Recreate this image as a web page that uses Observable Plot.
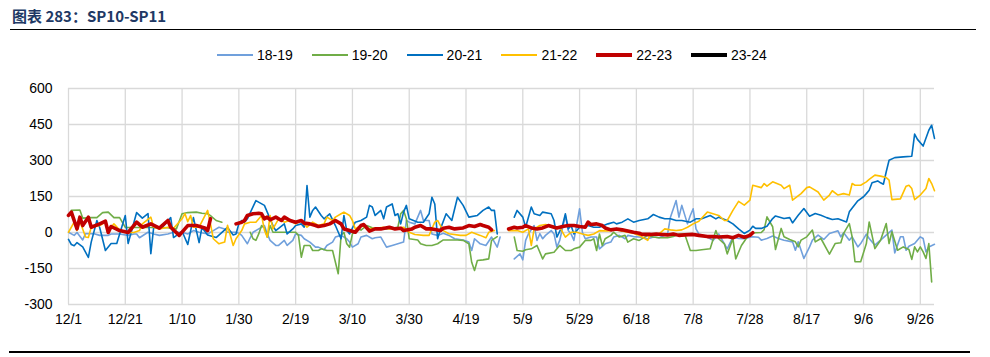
<!DOCTYPE html>
<html>
<head>
<meta charset="utf-8">
<script src="https://cdn.jsdelivr.net/npm/d3@7"></script>
<script src="https://cdn.jsdelivr.net/npm/@observablehq/plot@0.6"></script>
<style>
  html, body { margin: 0; padding: 0; background: #fff; }
  #page { position: relative; width: 990px; height: 357px; overflow: hidden; font-family: "Liberation Sans", Arial, sans-serif; }
  #title { position: absolute; left: 12px; top: 5px; font-family: "Noto Sans CJK SC", sans-serif; font-weight: 700; font-size: 15px; color: #203864; white-space: nowrap; }
  #topRule { position: absolute; left: 10px; top: 28.5px; width: 966px; height: 1.5px; background: #000; }
  #bottomRule { position: absolute; left: 9px; top: 351px; width: 961px; height: 2px; background: #000; }
  #legend { position: absolute; left: 217px; top: 46px; display: flex; }
  .item { width: 94.8px; display: flex; align-items: center; height: 18px; font-size: 14px; color: #000; }
  .item span { margin-left: 4px; }
  #chart { position: absolute; left: 0; top: 75px; }
</style>
</head>
<body>
<div id="page">
  <div id="title">图表 283：SP10-SP11</div>
  <div id="topRule"></div>
  <div id="legend"></div>
  <div id="chart"></div>
  <div id="bottomRule"></div>
</div>
<script>
// Days counted from 12/1. null = break in line.
const seriesNames = ["18-19", "19-20", "20-21", "21-22", "22-23", "23-24"];
const seriesColors = ["#70a0dc", "#70ad47", "#0070c0", "#ffc000", "#c00000", "#000000"];
const tickLabels = ["12/1","12/21","1/10","1/30","2/19","3/10","3/30","4/19","5/9","5/29","6/18","7/8","7/28","8/17","9/6","9/26"];
const yTicks = [-300, -150, 0, 150, 300, 450, 600];

const s1819 = [[0,1],[2,-12],[3,0],[5,-31],[6,-5],[9,-5],[11,-12],[14,-12],[15,-6],[18,-6],[21,-12],[23,-6],[24,-6],[25,-22],[28,1],[30,-6],[32,-12],[35,-6],[37,1],[40,1],[42,-6],[44,8],[46,1],[49,-6],[51,8],[53,22],[55,15],[56,1],[59,1],[60,-3],[61,-12],[63,-47],[64,-22],[65,1],[67,15],[69,29],[70,-6],[71,-33],[73,-54],[74,-54],[76,-33],[77,-54],[79,-33],[80,-6],[82,-12],[83,-26],[85,-40],[87,-61],[88,-61],[90,-72],[91,-54],[93,-40],[94,-19],[96,-12],[98,-26],[99,-40],[100,-61],[102,-47],[103,-19],[105,-12],[107,-26],[108,-22],[110,-19],[112,-61],[114,-54],[116,-47],[118,-40],[119,50],[120,43],[122,36],[124,92],[125,50],[127,50],[128,-6],[130,-12],[132,-3],[134,-12],[136,-26],[139,-31],[141,-40],[142,-75],[143,-26],[145,-47],[147,-54],[149,-19],[151,-61],[152,-19],[154,null],[157,-110],[159,-89],[160,-114],[161,-33],[162,-5],[164,29],[165,-33],[166,-5],[167,-26],[168,-12],[170,8],[171,-6],[172,-61],[173,-33],[175,71],[176,8],[177,-6],[178,-33],[180,99],[181,1],[182,-26],[184,-19],[186,-19],[187,-68],[189,-47],[191,-40],[192,-19],[194,-12],[196,-26],[197,-12],[199,-17],[201,-19],[204,-26],[206,-19],[208,-22],[211,-6],[212,64],[214,133],[215,64],[216,113],[218,36],[219,71],[220,99],[221,15],[222,-6],[225,-19],[227,-33],[229,-6],[232,-68],[234,-19],[236,-25],[238,-26],[240,-20],[241,-18],[243,-20],[244,-32],[246,-25],[248,-15],[250,-25],[252,-32],[255,-39],[256,-74],[257,-39],[259,-108],[261,-60],[262,-32],[264,-11],[266,-29],[268,-4],[271,7],[272,-18],[273,-1],[275,-32],[276,-18],[278,-60],[279,-46],[281,-7],[282,-25],[284,-53],[286,-32],[288,-11],[290,10],[291,-85],[293,-18],[294,-18],[295,-74],[296,-57],[298,-46],[300,-18],[301,-25],[302,-81],[303,-60],[305,-49]];

const s1920 = [[1,92],[4,94],[5,60],[8,62],[10,62],[12,83],[14,85],[16,62],[18,62],[20,21],[25,21],[30,21],[35,20],[38,15],[40,78],[42,83],[45,85],[47,80],[49,78],[50,70],[52,50],[54,43],[58,null],[64,1],[65,-26],[66,-33],[67,-6],[68,29],[69,20],[70,-19],[71,29],[72,1],[75,1],[78,1],[80,1],[81,-12],[82,-103],[83,-54],[85,-54],[86,-75],[88,-75],[89,-68],[91,-75],[93,-75],[95,-172],[96,-12],[97,1],[98,-47],[99,-61],[100,-6],[102,15],[103,10],[105,29],[107,20],[109,18],[112,15],[114,18],[116,22],[117,78],[118,92],[119,57],[120,-26],[123,-31],[124,-47],[126,-54],[128,-54],[130,-47],[132,-31],[134,-31],[137,-31],[139,-33],[141,-47],[142,-124],[143,-158],[144,-117],[146,-114],[148,-110],[149,-33],[151,-17],[154,null],[157,-19],[158,-75],[160,-78],[161,-72],[163,-68],[165,-54],[167,-110],[168,-89],[171,-82],[173,-54],[175,-75],[177,-75],[178,-68],[180,-61],[182,-33],[184,-33],[185,-26],[186,-75],[187,-6],[188,-54],[189,-26],[191,-12],[192,1],[194,-19],[196,-12],[197,-40],[199,-26],[201,-33],[204,-12],[206,-19],[208,-22],[211,-22],[213,-17],[215,-6],[217,-6],[219,-75],[221,-75],[223,-72],[226,-68],[228,8],[229,-26],[231,-47],[232,-89],[234,-26],[235,-110],[237,-54],[239,-20],[240,-4],[242,-1],[244,0],[245,12],[246,65],[248,24],[249,-71],[251,17],[252,-18],[254,-29],[256,-39],[257,-60],[258,-32],[260,-18],[262,10],[263,-39],[265,-25],[268,-90],[270,-46],[272,-43],[273,-4],[275,37],[276,-18],[277,-122],[279,-122],[281,-46],[282,44],[284,-67],[286,-32],[288,37],[289,-46],[290,3],[292,-74],[294,-60],[296,-71],[297,-112],[298,-60],[299,-81],[300,-60],[301,-81],[302,-108],[303,-46],[304,-206]];

const s2021 = [[0,-29],[1,-50],[2,-55],[3,-42],[5,-60],[7,-104],[8,-40],[10,50],[11,20],[13,-75],[15,-46],[17,-46],[20,71],[21,-46],[24,83],[26,60],[28,79],[29,-88],[30,21],[33,21],[36,62],[37,-21],[40,5],[42,-50],[44,62],[46,-42],[47,21],[49,-10],[52,-21],[56,21],[58,-10],[59,-6],[60,37],[61,50],[62,43],[63,57],[66,133],[69,113],[70,85],[72,29],[73,8],[76,36],[77,-6],[79,15],[80,29],[82,36],[83,22],[84,196],[85,64],[86,92],[87,106],[89,71],[90,57],[92,78],[94,29],[96,-26],[97,71],[98,8],[99,-6],[101,43],[103,50],[105,64],[106,113],[107,106],[108,71],[110,92],[111,57],[112,106],[114,119],[115,71],[116,78],[117,36],[118,85],[119,113],[120,57],[123,43],[125,43],[127,78],[128,147],[129,119],[130,-26],[131,15],[133,78],[135,50],[137,147],[139,113],[141,64],[144,71],[146,92],[148,106],[149,92],[150,92],[151,-6],[154,null],[157,64],[158,92],[160,64],[161,22],[163,106],[164,78],[166,71],[167,85],[170,78],[171,50],[172,-19],[174,29],[175,78],[176,15],[177,29],[178,-6],[180,22],[183,29],[185,22],[187,22],[190,36],[192,43],[193,36],[195,43],[197,57],[199,43],[201,50],[204,57],[206,75],[208,64],[210,57],[212,57],[214,50],[216,50],[219,43],[221,57],[223,57],[226,71],[228,57],[229,64],[232,50],[234,36],[236,15],[238,-4],[240,10],[241,26],[242,17],[244,17],[246,26],[248,58],[249,69],[252,58],[254,62],[255,40],[257,72],[259,100],[261,68],[263,79],[265,72],[267,62],[269,54],[271,57],[274,44],[275,86],[278,132],[280,149],[281,162],[282,176],[283,207],[285,215],[286,207],[287,201],[288,253],[289,301],[291,312],[294,315],[297,318],[298,410],[299,388],[301,360],[303,426],[304,447],[305,392]];

const s2122 = [[0,1],[2,43],[3,8],[4,47],[6,-19],[7,-21],[8,22],[11,29],[13,43],[14,8],[16,36],[18,10],[20,0],[23,0],[25,8],[26,36],[29,64],[30,22],[32,15],[35,22],[37,18],[40,57],[41,79],[42,45],[43,71],[44,22],[46,22],[49,92],[50,36],[51,-26],[53,-47],[55,-40],[56,30],[58,-54],[59,-26],[61,8],[62,36],[64,43],[66,43],[68,71],[69,10],[70,-19],[71,71],[72,15],[74,57],[76,43],[78,50],[80,36],[82,50],[84,22],[86,43],[88,29],[90,36],[91,64],[93,50],[94,64],[96,78],[97,85],[99,71],[100,50],[101,15],[103,29],[106,15],[108,18],[111,22],[113,15],[115,18],[118,22],[120,1],[122,-8],[125,-12],[127,-12],[129,43],[130,50],[132,8],[134,-5],[138,-12],[140,-12],[142,1],[145,-12],[147,-22],[148,1],[150,8],[153,null],[155,8],[158,8],[160,1],[162,15],[163,-54],[164,15],[166,29],[168,33],[171,25],[173,22],[175,-19],[177,1],[179,1],[181,-6],[183,-12],[185,-6],[187,8],[190,6],[192,11],[194,8],[197,1],[199,-3],[201,-12],[204,-33],[205,-6],[207,-12],[208,-6],[210,15],[212,11],[214,8],[216,11],[218,22],[220,36],[222,47],[225,85],[227,78],[229,71],[231,50],[232,50],[234,92],[236,130],[238,114],[240,135],[241,197],[244,187],[245,204],[246,193],[248,211],[251,197],[252,183],[254,197],[255,135],[258,162],[260,187],[261,190],[264,169],[266,135],[268,156],[269,174],[271,156],[273,162],[275,156],[276,204],[277,197],[279,197],[281,211],[282,221],[284,239],[286,235],[288,229],[289,218],[290,137],[293,140],[295,193],[296,197],[297,183],[298,137],[300,156],[302,183],[303,225],[304,204],[305,174]];

const s2223 = [[0,71],[1,85],[3,15],[4,64],[5,29],[7,64],[8,22],[11,36],[13,47],[14,0],[15,25],[18,8],[21,0],[24,43],[26,22],[29,36],[32,18],[35,50],[36,22],[39,-12],[41,15],[42,29],[45,29],[48,19],[49,8],[50,57],[55,null],[59,36],[61,43],[62,50],[63,71],[65,78],[67,80],[68,78],[69,57],[70,64],[71,53],[73,64],[75,50],[76,64],[78,50],[80,43],[82,50],[83,39],[85,36],[87,29],[88,25],[90,29],[92,36],[94,50],[96,36],[97,15],[99,8],[101,1],[103,29],[104,33],[106,6],[108,15],[110,15],[113,22],[115,15],[117,18],[118,8],[121,15],[122,22],[124,29],[126,15],[128,15],[131,8],[132,18],[134,22],[136,15],[138,18],[139,19],[141,29],[143,25],[145,33],[146,29],[148,22],[149,11],[152,null],[155,15],[157,22],[158,19],[160,22],[161,29],[163,19],[165,15],[167,19],[169,29],[171,22],[172,19],[174,25],[176,29],[178,29],[180,25],[182,22],[183,43],[184,33],[186,36],[188,29],[189,19],[191,11],[193,15],[195,11],[197,6],[199,1],[201,-3],[202,-8],[205,-8],[207,-6],[209,-8],[211,-10],[213,-6],[215,-12],[217,-10],[220,-8],[222,-12],[225,-17],[227,-17],[229,-19],[232,-17],[234,-22],[236,-12],[238,-20],[240,-12],[241,-1]];

const s2324 = [];

const seriesData = [s1819, s1920, s2021, s2122, s2223, s2324];
const seriesWidths = [1.6, 1.6, 1.6, 1.6, 3.6, 3.6];

const base = new Date(Date.UTC(2023, 11, 1));
const toDate = d => d3.utcDay.offset(base, d);
const parseLabel = s => { const [m, d] = s.split("/").map(Number); return new Date(Date.UTC(m === 12 ? 2023 : 2024, m - 1, d)); };
const tickDates = tickLabels.map(parseLabel);
const labelOf = new Map(tickDates.map((d, i) => [+d, tickLabels[i]]));

// legend
const legend = document.getElementById("legend");
seriesNames.forEach((name, i) => {
  const item = document.createElement("div");
  item.className = "item";
  const w = seriesWidths[i] > 2 ? 4 : 2;
  item.innerHTML = `<svg width="36" height="18"><line x1="0" x2="36" y1="9" y2="9" stroke="${seriesColors[i]}" stroke-width="${w}" stroke-linecap="round"/></svg><span>${name}</span>`;
  legend.appendChild(item);
});

const lineMarks = seriesData.map((data, i) =>
  Plot.line(data.map(([d, v]) => ({date: toDate(d), value: v})), {
    x: "date", y: "value", stroke: seriesColors[i], strokeWidth: seriesWidths[i],
    strokeLinejoin: "round", strokeLinecap: "round"
  })
);

const chart = Plot.plot({
  width: 990,
  height: 265,
  marginLeft: 68,
  marginRight: 56,
  marginTop: 13,
  marginBottom: 36,
  style: { fontFamily: "'Liberation Sans', Arial, sans-serif", fontSize: "14px", color: "#000", background: "transparent" },
  x: { type: "utc", domain: [base, toDate(305)], label: null },
  y: { domain: [-300, 600], label: null },
  marks: [
    Plot.gridX(tickDates, { stroke: "#d9d9d9", strokeOpacity: 1, strokeWidth: 1.3 }),
    Plot.gridY(yTicks, { stroke: "#d9d9d9", strokeOpacity: 1, strokeWidth: 1.3 }),
    Plot.axisX(tickDates, { tickSize: 0, tickPadding: 10, tickFormat: d => labelOf.get(+d), label: null, fill: "#000" }),
    Plot.axisY(yTicks, { tickSize: 0, tickPadding: 16, tickFormat: d => String(d), label: null, fill: "#000" }),
    ...lineMarks
  ]
});
document.getElementById("chart").appendChild(chart);
</script>
</body>
</html>
